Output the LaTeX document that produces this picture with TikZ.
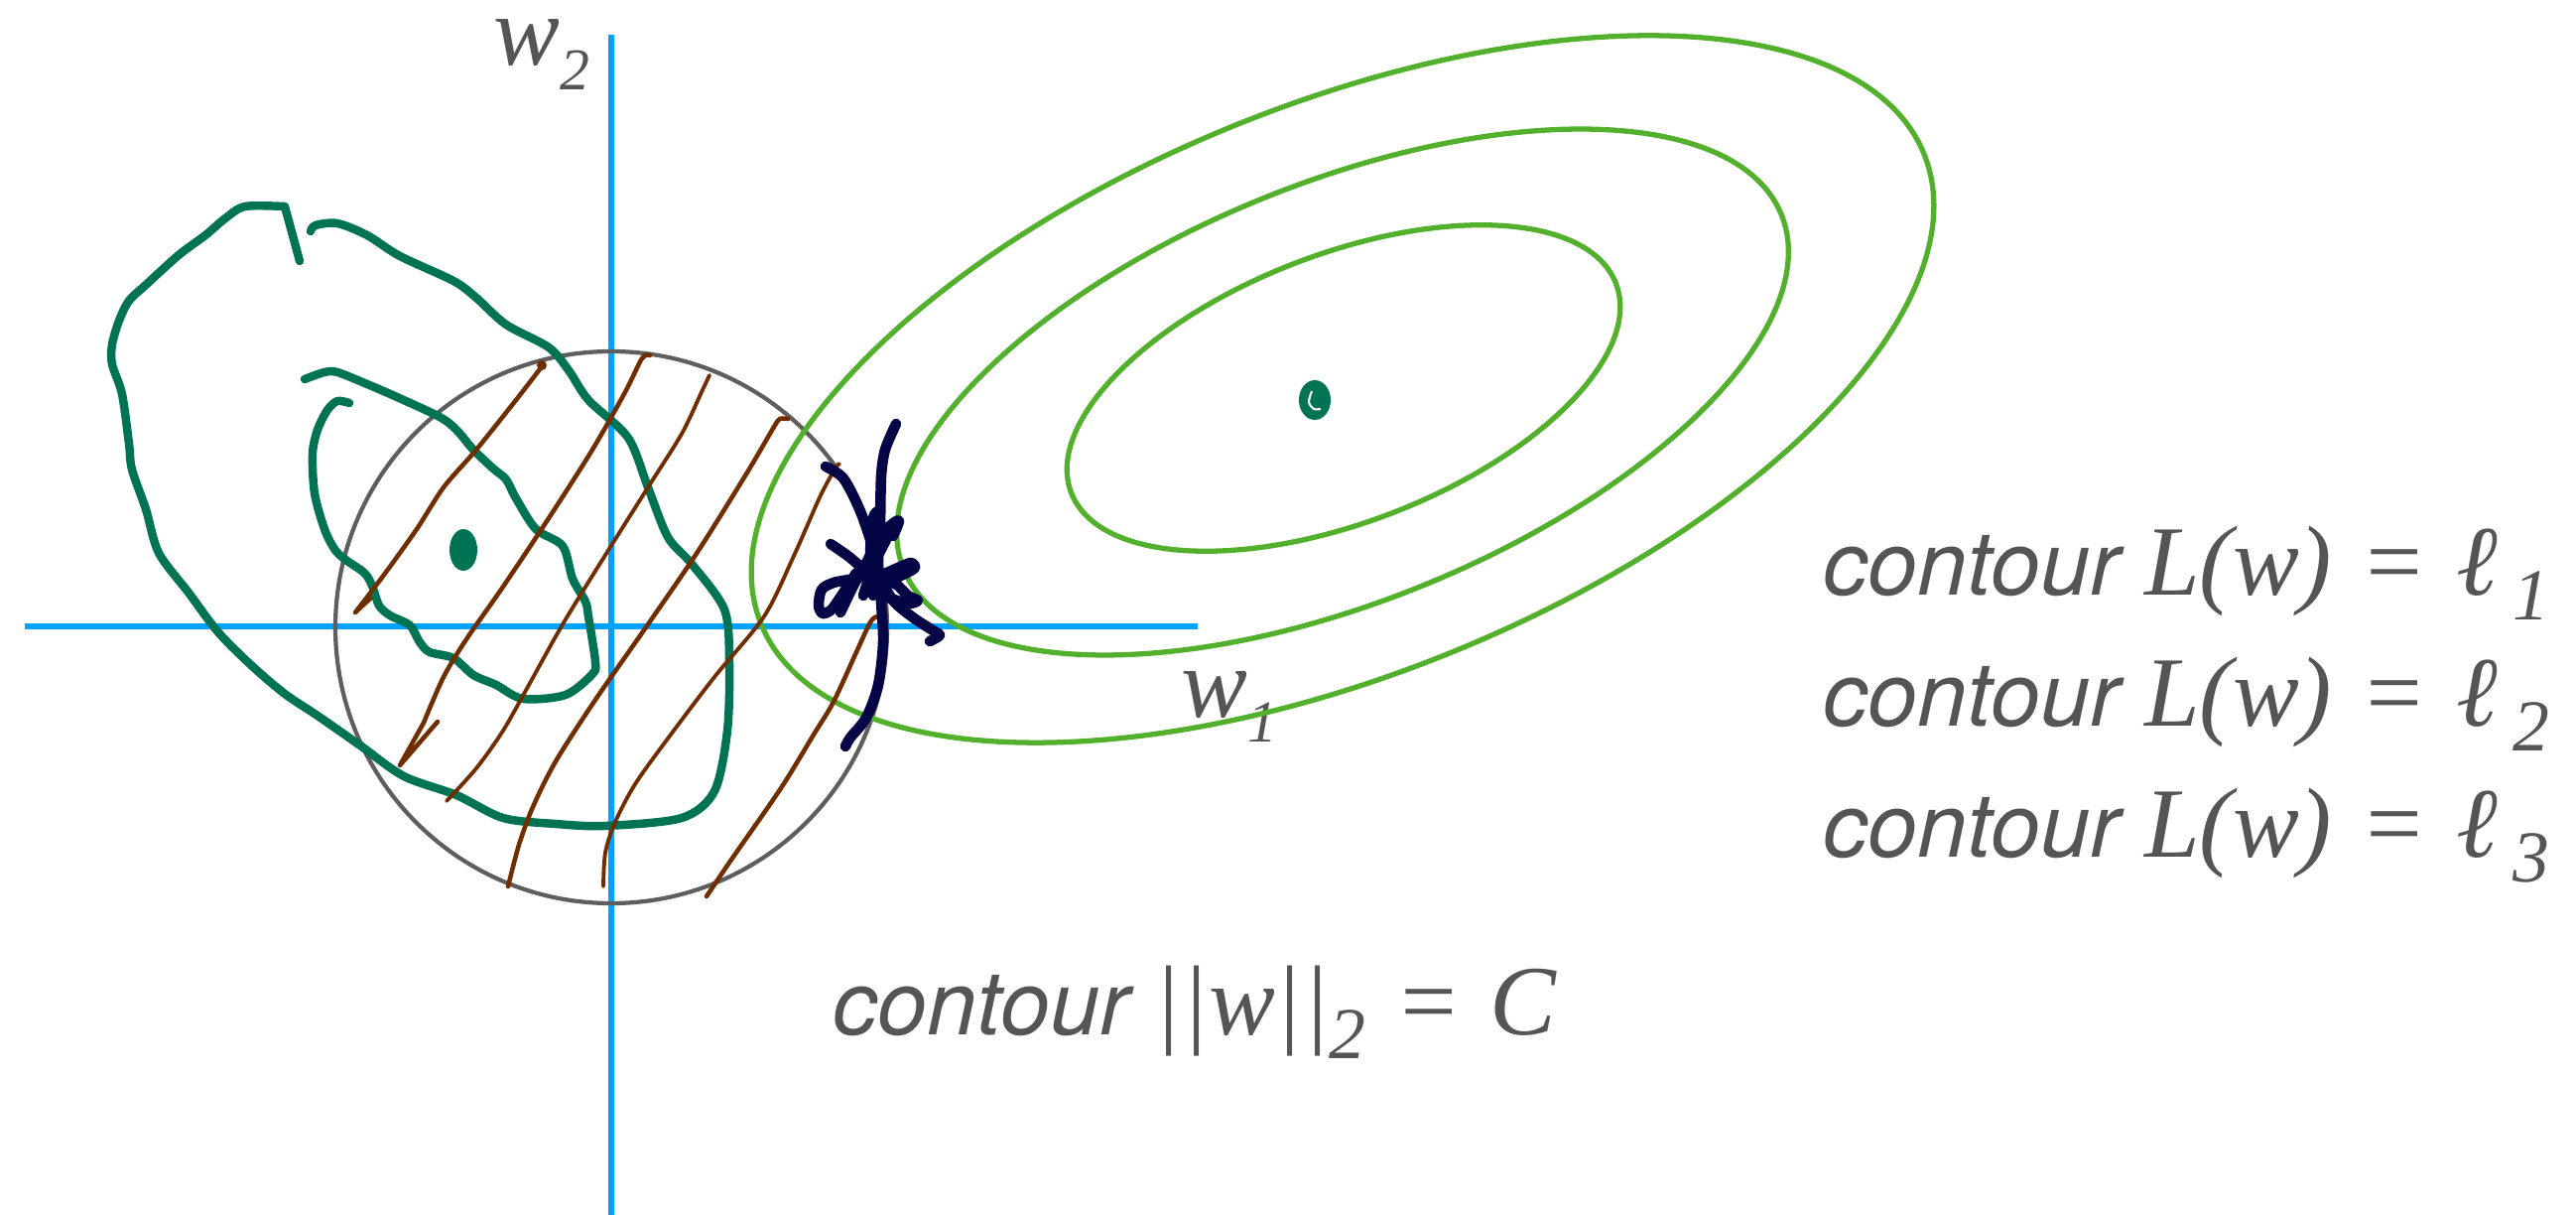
\documentclass[tikz,border=0pt]{standalone}
\usepackage{fontspec}
\newfontfamily\labelsf{TeX Gyre Heros}
\newfontfamily\labelrm{Liberation Serif}
\newcommand\mvar[1]{{\fontsize{28.5}{30}\selectfont\labelrm\itshape #1}}
\newcommand\mup[1]{{\fontsize{28.5}{30}\selectfont\labelrm #1}}
\newcommand\meq{\hspace{0.32em}\mup{=}\hspace{0.32em}}
\newcommand\msub[2][21]{\raisebox{-0.27em}{\fontsize{#1}{#1}\selectfont\labelrm #2}}
\definecolor{axisblue}{RGB}{0,162,255}
\definecolor{ballgray}{RGB}{94,94,94}
\definecolor{lossgreen}{RGB}{82,176,44}
\definecolor{ridgeteal}{RGB}{0,115,85}
\definecolor{hatchbrown}{RGB}{112,46,0}
\definecolor{inknavy}{RGB}{5,5,70}
\definecolor{labelgray}{RGB}{85,85,85}
\tikzset{
  axis/.style={draw=axisblue, line width=1.6pt},
  normball/.style={draw=ballgray, line width=1.2pt},
  losscurve/.style={draw=lossgreen, line width=1.5pt},
  ridge/.style={draw=ridgeteal, line width=2.4pt, line cap=round, line join=round},
  hatch/.style={draw=hatchbrown, line width=1.3pt, line cap=round, line join=round},
  scribble/.style={draw=inknavy, line width=3pt, line cap=round, line join=round},
  lbl/.style={inner sep=0pt, text=labelgray, font=\fontsize{25.6}{30}\selectfont\labelsf\itshape},
}
\begin{document}
\begin{tikzpicture}[x=0.1mm, y=-0.1mm]
  \useasboundingbox (0,0) rectangle (2596,1224);
  % axes
  \draw[axis] (616,35) -- (616,1224);
  \draw[axis] (25,631) -- (1207,631);
  \node[lbl, anchor=base west] (wtwo) at (497,66) {\mvar{w}\msub[17]{2}};
  \node[lbl, anchor=base west] (wone) at (1190,723) {\mvar{w}\msub[17]{1}};
  % the ball ||w||_2 <= C
  \draw[normball] (616,632) circle [radius=278];
  % contours of L(w)
  \draw[losscurve, rotate around={22:(1353,392)}] (1353,392) ellipse [x radius=632, y radius=287];
  \draw[losscurve, rotate around={22:(1353,395)}] (1353,395) ellipse [x radius=477, y radius=211];
  \draw[losscurve, rotate around={21:(1354,391)}] (1354,391) ellipse [x radius=294, y radius=135];
  % minimum of L
  \fill[ridgeteal] (1325,403) ellipse [x radius=16, y radius=20];
  \draw[white, line width=0.6pt] plot [smooth] coordinates {(1322,394) (1319,405) (1324,412) (1331,412)};
  % outer ridge
  \draw[ridge] (302,263) -- plot [smooth] coordinates {(287,208) (247,208) (227,220) (207,237) (180,257) (147,287) (130,303) (120,323) (113,347) (113,367) (123,397) (130,447) (133,473) (147,513) (160,557) (190,597) (220,637) (253,670) (287,699) (320,721) (363,751) (407,782) (460,801) (507,824) (560,830) (610,832) (687,824) (720,797) (733,736) (735,667) (730,614) (697,568) (673,541) (653,491) (633,441) (593,403) (573,373) (553,350) (510,327) (480,300) (457,283) (403,258) (370,237) (340,225) (318,227) (313,233)};
  % inner ridge
  \draw[ridge] plot [smooth] coordinates {(307,382) (327,375) (340,375) (370,387) (400,400) (443,420) (460,433) (477,453) (497,472) (510,483) (520,502) (540,533) (567,550) (577,583) (590,606) (593,621) (600,667) (597,679) (570,700) (527,704) (500,690) (477,680) (457,663) (433,657) (423,647) (413,630) (393,620) (382,610) (375,590) (367,577) (347,563) (337,553) (327,533) (317,497) (315,457) (320,433) (330,413) (340,404) (352,406)};
  \fill[ridgeteal] (467,554) ellipse [x radius=14, y radius=21];
  % hatching inside the ball
  \draw[hatch] (373,603) -- plot [smooth] coordinates {(358,617) (387,579) (420,533) (447,491) (480,453) (520,403) (547,368)};
  \fill[hatchbrown] (546,368) circle [radius=5];
  \draw[hatch] (441,727) -- (403,771) -- plot [smooth] coordinates {(427,728) (447,682) (470,644) (507,591) (553,522) (597,453) (630,395) (647,361) (655,358)};
  \draw[hatch, line width=1.1pt] plot [smooth] coordinates {(450,807) (480,774) (507,736) (533,690) (567,629) (607,564) (653,491) (687,437) (707,395) (715,378)};
  \draw[hatch] plot [smooth] coordinates {(512,893) (523,851) (537,813) (560,767) (600,705) (653,629) (703,556) (753,476) (780,430) (786,422) (794,422)};
  \draw[hatch, line width=1.1pt] plot [smooth] coordinates {(608,893) (610,859) (620,828) (640,790) (673,744) (720,682) (770,621) (800,560) (827,499) (843,470) (846,468)};
  \draw[hatch] plot [smooth] coordinates {(712,903) (737,866) (787,794) (820,740) (840,707) (863,657) (877,627) (884,621) (888,622)};
  % where the ball touches the contour
  \draw[scribble] plot [smooth] coordinates {(903,427) (892,453) (888,480) (887,527) (885,567) (888,607) (890,647) (885,690) (873,723) (857,743) (852,752)};
  \draw[scribble] plot [smooth] coordinates {(832,470) (850,482) (867,515) (880,553) (887,580) (900,605) (920,622) (940,635) (947,640) (937,646)};
  \draw[scribble] plot [smooth] coordinates {(837,548) (857,562) (873,578) (860,583) (840,587) (828,594) (825,610) (829,618) (838,614) (850,597) (863,577)};
  \draw[scribble] plot [smooth] coordinates {(847,617) (860,590) (873,567) (887,540) (899,528) (906,525) (900,540)};
  \draw[scribble] plot [smooth] coordinates {(887,580) (905,572) (918,567) (922,572) (912,578) (898,585) (905,590) (915,600) (925,605) (915,608) (895,602)};
  \draw[scribble] plot [smooth] coordinates {(880,600) (877,560) (880,522) (885,515)};
  \draw[scribble] plot [smooth] coordinates {(870,600) (880,570) (895,540) (903,525)};
  % labels
  \node[lbl, anchor=base west] (normlabel) at (839,1042) {contour \mup{||}\mvar{w}\mup{||}\msub{2}\meq\mvar{C}};
  \node[lbl, anchor=base west] (lossone) at (1837,600) {contour \mvar{L}\mup{(}\mvar{w}\mup{)}\meq\mvar{ℓ}\,\msub{1}};
  \node[lbl, anchor=base west] (losstwo) at (1837,732) {contour \mvar{L}\mup{(}\mvar{w}\mup{)}\meq\mvar{ℓ}\,\msub{2}};
  \node[lbl, anchor=base west] (lossthree) at (1837,864) {contour \mvar{L}\mup{(}\mvar{w}\mup{)}\meq\mvar{ℓ}\,\msub{3}};
\end{tikzpicture}
\end{document}
